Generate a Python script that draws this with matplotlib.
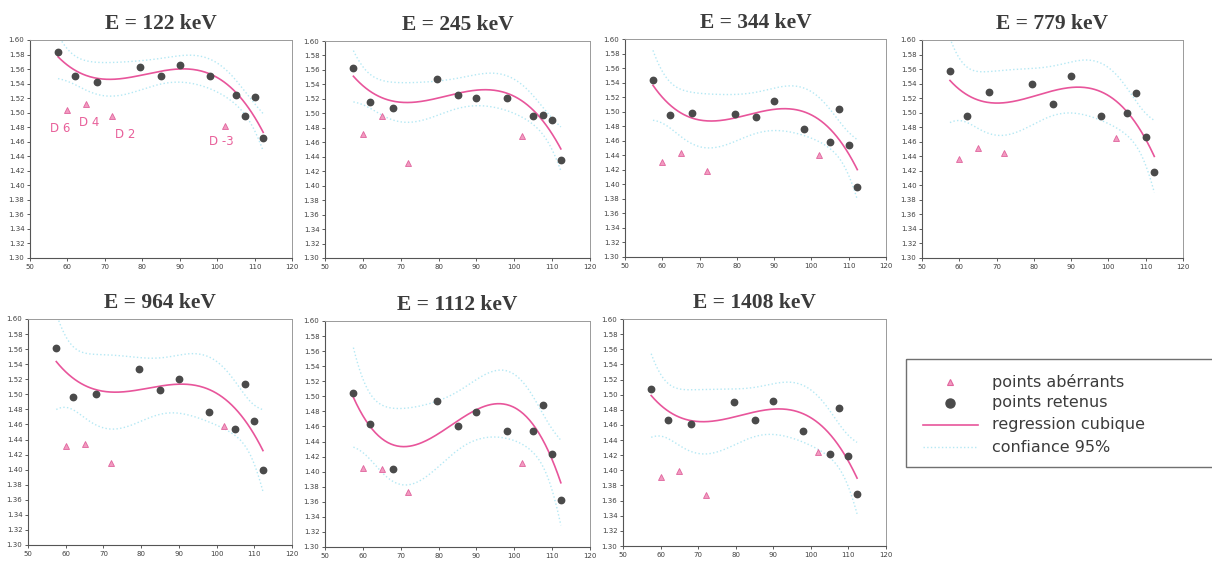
import numpy as np
import matplotlib.pyplot as plt
from matplotlib.patches import Rectangle
from matplotlib.lines import Line2D

# angles (x) des points retenus et aberrants, communs a toutes les energies
x_retenus = [57.5, 62, 68, 79.5, 85, 90, 98, 105, 107.5, 110, 112.3]
x_aberrants = [60, 65, 72, 102]
labels_aberrants = ["D 6", "D 4", "D 2", "D -3"]

energies = [122, 245, 344, 779, 964, 1112, 1408]

ret_122 = [1.584, 1.550, 1.542, 1.563, 1.551, 1.566, 1.551, 1.524, 1.495, 1.521, 1.465]
abr_122 = [1.503, 1.512, 1.496, 1.482]
ret_245 = [1.563, 1.515, 1.508, 1.548, 1.525, 1.521, 1.521, 1.497, 1.498, 1.491, 1.436]
abr_245 = [1.472, 1.497, 1.431, 1.468]
ret_344 = [1.543, 1.495, 1.498, 1.497, 1.493, 1.515, 1.476, 1.458, 1.503, 1.454, 1.397]
abr_344 = [1.431, 1.443, 1.418, 1.440]
ret_779 = [1.558, 1.495, 1.528, 1.539, 1.512, 1.550, 1.495, 1.499, 1.527, 1.466, 1.418]
abr_779 = [1.436, 1.451, 1.445, 1.465]
ret_964 = [1.561, 1.496, 1.500, 1.534, 1.506, 1.520, 1.477, 1.454, 1.514, 1.464, 1.400]
abr_964 = [1.432, 1.434, 1.409, 1.458]
ret_1112 = [1.505, 1.463, 1.403, 1.494, 1.461, 1.479, 1.454, 1.454, 1.489, 1.423, 1.362]
abr_1112 = [1.405, 1.403, 1.373, 1.412]
ret_1408 = [1.507, 1.467, 1.461, 1.490, 1.467, 1.491, 1.452, 1.422, 1.483, 1.419, 1.369]
abr_1408 = [1.391, 1.399, 1.368, 1.424]

retenus = [ret_122, ret_245, ret_344, ret_779, ret_964, ret_1112, ret_1408]
aberrants = [abr_122, abr_245, abr_344, abr_779, abr_964, abr_1112, abr_1408]

T95 = 2.365  # student, 7 ddl

C_RET = '#4a4a4a'
C_ABR = '#f29ac0'
C_ABR_EDGE = '#e0659e'
C_FIT = '#e8559b'
C_BAND = '#b4e8f4'
C_TXT = '#404040'

# boites des axes en pixels: gauche, droite, haut, bas
boxes = [(30, 292, 40, 258), (325, 590, 41, 258), (625, 886, 39, 257),
         (922, 1183, 40, 258), (28, 292, 319, 545), (325, 590, 321, 547),
         (623, 886, 319, 546)]

W, H = 1212, 564


def cubic_fit(x, y, xs):
    X = np.vander(x, 4)
    coef = np.linalg.lstsq(X, y, rcond=None)[0]
    resid = y - X @ coef
    s2 = resid @ resid / (len(x) - 4)
    cov = s2 * np.linalg.inv(X.T @ X)
    Xs = np.vander(xs, 4)
    yfit = Xs @ coef
    se = np.sqrt(np.einsum('ij,jk,ik->i', Xs, cov, Xs))
    return yfit, yfit - T95 * se, yfit + T95 * se


fig = plt.figure(figsize=(W / 100, H / 100), dpi=100)

for i, e in enumerate(energies):
    l, r, t, b = boxes[i]
    ax = fig.add_axes([l / W, 1 - b / H, (r - l) / W, (b - t) / H])
    x = np.array(x_retenus)
    y = np.array(retenus[i])
    xs = np.linspace(x.min(), x.max(), 200)
    yfit, lo, hi = cubic_fit(x, y, xs)
    ax.plot(xs, lo, color=C_BAND, lw=1, ls=':')
    ax.plot(xs, hi, color=C_BAND, lw=1, ls=':')
    ax.plot(xs, yfit, color=C_FIT, lw=1.2)
    ax.plot(x, y, 'o', color=C_RET, ms=4.6, mec=C_RET)
    ax.plot(x_aberrants, aberrants[i], '^', color=C_ABR, mec=C_ABR_EDGE,
            ms=3.8, mew=0.6)
    if i == 0:
        offs = [(-2, -0.025), (0.7, -0.026), (3.5, -0.026), (-0.9, -0.021)]
        for xa, ya, lab, (dx, dy) in zip(x_aberrants, aberrants[i], labels_aberrants, offs):
            ax.text(xa + dx, ya + dy, lab, color='#e8609a', fontsize=8.5,
                    ha='center', va='center')
    ax.set_xlim(50, 120)
    ax.set_ylim(1.30, 1.60)
    ax.set_xticks(np.arange(50, 121, 10))
    ax.set_yticks(np.arange(1.30, 1.601, 0.02))
    ax.set_yticklabels([f"{v:.2f}" for v in np.arange(1.30, 1.601, 0.02)])
    ax.tick_params(labelsize=5, colors=C_TXT, length=2, width=0.6, pad=2)
    for side in ['left', 'bottom']:
        ax.spines[side].set_color('#555555')
        ax.spines[side].set_linewidth(0.8)
    for side in ['top', 'right']:
        ax.spines[side].set_color('#9a9a9a')
        ax.spines[side].set_linewidth(0.7)
        ax.spines[side].set_linestyle((0, (3, 1)))
    ax.set_title(f"E = {e} keV", family='Liberation Serif', fontweight='bold',
                 fontsize=15.5, color='#3c3c3c', pad=8)

# legende dessinee a la main
lg = fig.add_axes([0, 0, 1, 1])
lg.set_xlim(0, W)
lg.set_ylim(H, 0)
lg.axis('off')
lg.add_patch(Rectangle((906, 359), 320, 108, fill=False, ec='#707070', lw=1))
rows = [382, 403, 425, 447]
lg.plot([950], [rows[0]], '^', color=C_ABR, mec=C_ABR_EDGE, ms=5, mew=0.8)
lg.plot([950], [rows[1]], 'o', color=C_RET, ms=6.5)
lg.add_line(Line2D([923, 978], [rows[2], rows[2]], color=C_FIT, lw=1.2))
lg.add_line(Line2D([923, 978], [rows[3], rows[3]], color=C_BAND, lw=1, ls=':'))
texts = ["points abérrants", "points retenus", "regression cubique", "confiance 95%"]
for yy, txt in zip(rows, texts):
    lg.text(992, yy, txt, fontsize=11.5, color='#3c3c3c', va='center', ha='left')

fig.savefig('out.png', dpi=100)
